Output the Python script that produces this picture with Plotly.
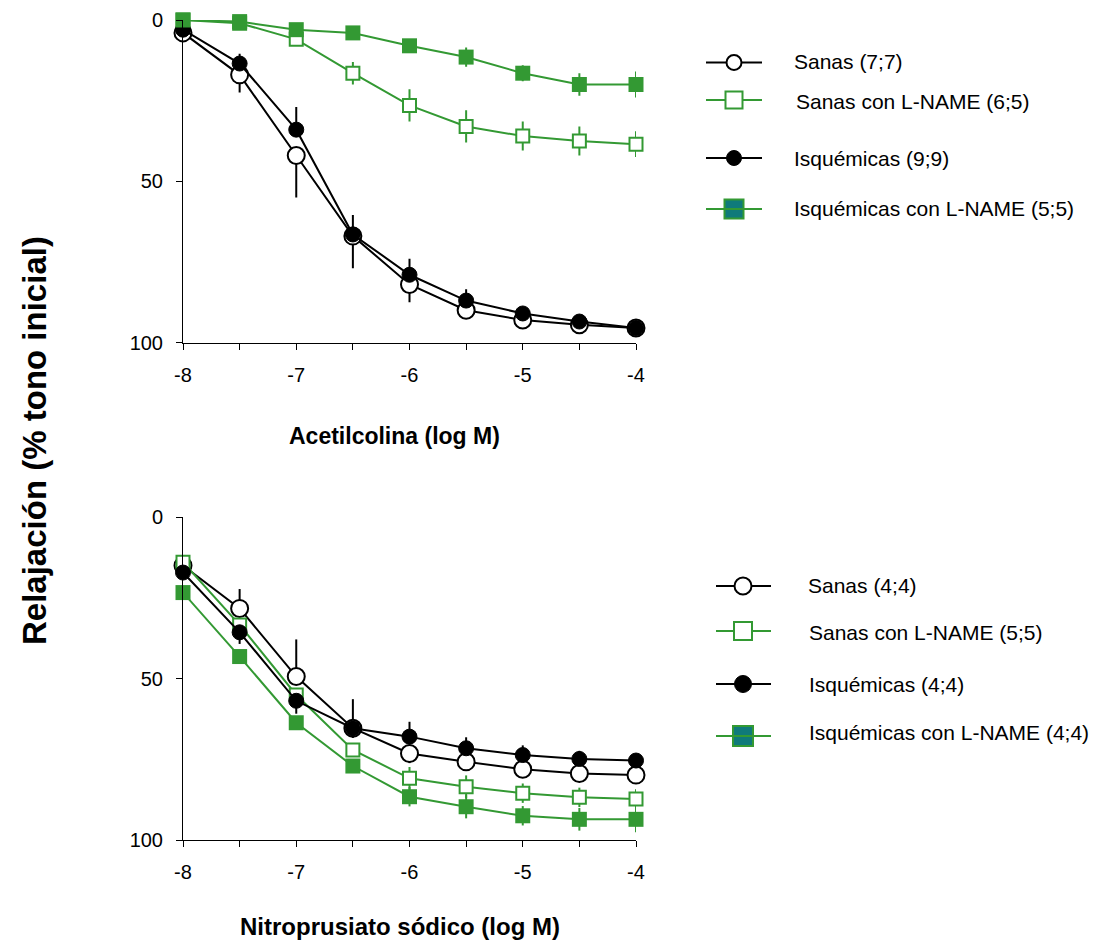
import plotly.graph_objects as go

W, H = 1101, 944
OFF = 8  # page body margin of the viewing browser
GREEN = "#339933"
TEAL = "#0f7a7a"
FONT = "Liberation Sans, Arial, sans-serif"

# ---------------- data ----------------
log_dose = [-8, -7.5, -7, -6.5, -6, -5.5, -5, -4.5, -4]
x_tickvals = [-8, -7.5, -7, -6.5, -6, -5.5, -5, -4.5, -4]
x_ticktext = ["-8", "", "-7", "", "-6", "", "-5", "", "-4"]
y_tickvals = [0, 50, 100]
y_ticktext = ["0", "50", "100"]

# Acetilcolina panel
ach_sanas = [4, 17, 42, 67, 82, 90, 93, 94.5, 95.5]
ach_sanas_err_up = [0, 0, 0, 0, 0, 0, 0, 0, 0]
ach_sanas_err_down = [0, 5.5, 13, 10, 5.5, 2.5, 2, 1.5, 0.5]
ach_sanas_ln = [0, 1, 6, 16.5, 26.5, 33, 36, 37.5, 38.5]
ach_sanas_ln_err = [0, 0.5, 1, 3.5, 5, 5, 4.5, 4.5, 4]
ach_isq = [3, 13.5, 34, 66.5, 79, 87, 91, 93.5, 95.5]
ach_isq_err_up = [0.5, 3, 7, 6, 5, 3.5, 2, 2, 0.5]
ach_isq_err_down = [0, 0, 0, 0, 0, 0, 0, 0, 0]
ach_isq_ln = [0, 0.5, 3, 4, 8, 11.5, 16.5, 20, 20]
ach_isq_ln_err = [0, 0.5, 1, 1, 1.5, 3, 2.5, 3.5, 4]

# Nitroprusiato panel
snp_sanas = [15, 28.3, 49.4, 65.4, 73.2, 75.8, 78.1, 79.4, 79.9]
snp_sanas_err_up = [1, 6, 11.5, 9, 0, 0, 0, 0, 0]
snp_sanas_err_down = [0, 0, 0, 0, 3, 2.5, 2, 1.5, 1]
snp_sanas_ln = [14, 33.4, 55.1, 72.1, 80.9, 83.5, 85.5, 86.8, 87.3]
snp_sanas_ln_err = [0.5, 1, 1.5, 2, 3.5, 3.5, 3, 3, 3]
snp_isq = [17.2, 35.7, 56.9, 65.4, 68, 71.6, 73.7, 74.9, 75.4]
snp_isq_err_up = [0, 0, 0, 0, 4.6, 3.4, 3, 2.5, 1]
snp_isq_err_down = [1, 3.6, 4, 3, 0, 0, 0, 0, 0]
snp_isq_ln = [23.4, 43.2, 63.7, 77.1, 86.6, 89.7, 92.5, 93.6, 93.6]
snp_isq_ln_err = [0.5, 1, 1.5, 2, 3, 3.6, 3, 3.5, 4]

legend_top = ["Sanas (7;7)", "Sanas con L-NAME (6;5)", "Isquémicas (9;9)", "Isquémicas con L-NAME (5;5)"]
legend_bottom = ["Sanas (4;4)", "Sanas con L-NAME (5;5)", "Isquémicas (4;4)", "Isquémicas con L-NAME (4;4)"]

title_top = "Acetilcolina (log M)"
title_bottom = "Nitroprusiato sódico (log M)"
title_y = "Relajación (% tono inicial)"


def px(x):
    return (x - OFF) / W


def py(y):
    return 1 - (y - OFF) / H


fig = go.Figure()

STYLES = [
    dict(mode="lines+markers", line=dict(color="black", width=2),
         marker=dict(symbol="circle", size=17, color="white", line=dict(color="black", width=2))),
    dict(mode="lines+markers", line=dict(color=GREEN, width=2),
         marker=dict(symbol="square", size=13, color="white", line=dict(color=GREEN, width=2))),
    dict(mode="lines+markers", line=dict(color="black", width=2),
         marker=dict(symbol="circle", size=15, color="black", line=dict(color="black", width=1))),
    dict(mode="lines+markers", line=dict(color=GREEN, width=2),
         marker=dict(symbol="square", size=15, color=GREEN, line=dict(color=GREEN, width=0))),
]


def add_panel(xa, ya, series):
    for i, (yv, eplus, eminus, color) in enumerate(series):
        fig.add_trace(go.Scatter(
            x=log_dose, y=yv, xaxis=xa, yaxis=ya, showlegend=False,
            cliponaxis=False,
            error_y=dict(type="data", symmetric=False, array=eplus, arrayminus=eminus,
                         color=color, thickness=2, width=0),
            **STYLES[i]))


add_panel("x", "y", [
    (ach_sanas, ach_sanas_err_down, ach_sanas_err_up, "black"),
    (ach_sanas_ln, ach_sanas_ln_err, ach_sanas_ln_err, GREEN),
    (ach_isq, ach_isq_err_down, ach_isq_err_up, "black"),
    (ach_isq_ln, ach_isq_ln_err, ach_isq_ln_err, GREEN),
])
add_panel("x2", "y2", [
    (snp_sanas, snp_sanas_err_down, snp_sanas_err_up, "black"),
    (snp_sanas_ln, snp_sanas_ln_err, snp_sanas_ln_err, GREEN),
    (snp_isq, snp_isq_err_down, snp_isq_err_up, "black"),
    (snp_isq_ln, snp_isq_ln_err, snp_isq_ln_err, GREEN),
])

xdom = [px(183), px(636)]
axis_common = dict(showline=True, linecolor="black", linewidth=1, ticks="outside",
                   ticklen=6, tickcolor="black", tickwidth=1, showgrid=False,
                   zeroline=False, automargin=False,
                   tickfont=dict(family=FONT, size=20, color="black"))
xaxis_common = dict(axis_common, range=[-8, -4], tickmode="array",
                    tickvals=x_tickvals, ticktext=x_ticktext, ticklabelstandoff=8)
yaxis_common = dict(axis_common, range=[100, 0], tickmode="array",
                    tickvals=y_tickvals, ticktext=y_ticktext, ticklabelstandoff=9)

fig.update_layout(
    width=W, height=H, autosize=False,
    margin=dict(l=0, r=0, t=0, b=0, pad=0, autoexpand=False),
    paper_bgcolor="white", plot_bgcolor="white", showlegend=False,
    xaxis=dict(xaxis_common, domain=xdom, anchor="y"),
    yaxis=dict(yaxis_common, domain=[py(342.5), py(20)], anchor="x"),
    xaxis2=dict(xaxis_common, domain=xdom, anchor="y2"),
    yaxis2=dict(yaxis_common, domain=[py(840), py(517)], anchor="x2"),
)

annotations = [
    dict(text="<b>%s</b>" % title_top, x=px(394), y=py(436), xref="paper", yref="paper",
         showarrow=False, xanchor="center", yanchor="middle",
         font=dict(family=FONT, size=23, color="black")),
    dict(text="<b>%s</b>" % title_bottom, x=px(400), y=py(926), xref="paper", yref="paper",
         showarrow=False, xanchor="center", yanchor="middle",
         font=dict(family=FONT, size=24, color="black")),
    dict(text="<b>%s</b>" % title_y, x=px(35), y=py(441), xref="paper", yref="paper",
         showarrow=False, xanchor="center", yanchor="middle", textangle=-90,
         font=dict(family=FONT, size=33, color="black")),
]
shapes = []


def legend_block(labels, rows, lx0, lx1, mcx, tx, circ_d, sq_d):
    for k, (label, (ly, ty)) in enumerate(zip(labels, rows)):
        color = "black" if k in (0, 2) else GREEN
        line = dict(type="line", xref="paper", yref="paper", x0=px(lx0), x1=px(lx1),
                    y0=py(ly), y1=py(ly), line=dict(color=color, width=2))
        if k == 0:
            r = circ_d / 2
            shapes.append(line)
            shapes.append(dict(type="circle", xref="paper", yref="paper",
                               x0=px(mcx - r), x1=px(mcx + r), y0=py(ly + r), y1=py(ly - r),
                               fillcolor="white", line=dict(color="black", width=2)))
        elif k == 2:
            r = circ_d / 2
            shapes.append(line)
            shapes.append(dict(type="circle", xref="paper", yref="paper",
                               x0=px(mcx - r), x1=px(mcx + r), y0=py(ly + r), y1=py(ly - r),
                               fillcolor="black", line=dict(color="black", width=1)))
        elif k == 1:
            r = sq_d / 2
            shapes.append(line)
            shapes.append(dict(type="rect", xref="paper", yref="paper",
                               x0=px(mcx - r), x1=px(mcx + r), y0=py(ly + r), y1=py(ly - r),
                               fillcolor="white", line=dict(color=GREEN, width=2)))
        else:
            r = (sq_d + 2) / 2
            shapes.append(dict(type="rect", xref="paper", yref="paper",
                               x0=px(mcx - r), x1=px(mcx + r), y0=py(ly + r), y1=py(ly - r),
                               fillcolor=TEAL, line=dict(color=GREEN, width=2)))
            shapes.append(line)
        annotations.append(dict(text=label, x=px(tx[k]), y=py(ty), xref="paper", yref="paper",
                                showarrow=False, xanchor="left", yanchor="middle",
                                font=dict(family=FONT, size=21, color="black")))


legend_block(legend_top, [(62.5, 61), (100, 102), (158, 158), (209, 208.5)],
             706, 762, 734, [792, 794, 792, 792], 15, 17)
legend_block(legend_bottom, [(586, 585), (631, 632), (684, 684), (736, 732)],
             716, 771, 743, [806, 807, 807, 807], 17, 18)

fig.update_layout(annotations=annotations, shapes=shapes)

fig.write_html("out.html", config={"displayModeBar": False})
